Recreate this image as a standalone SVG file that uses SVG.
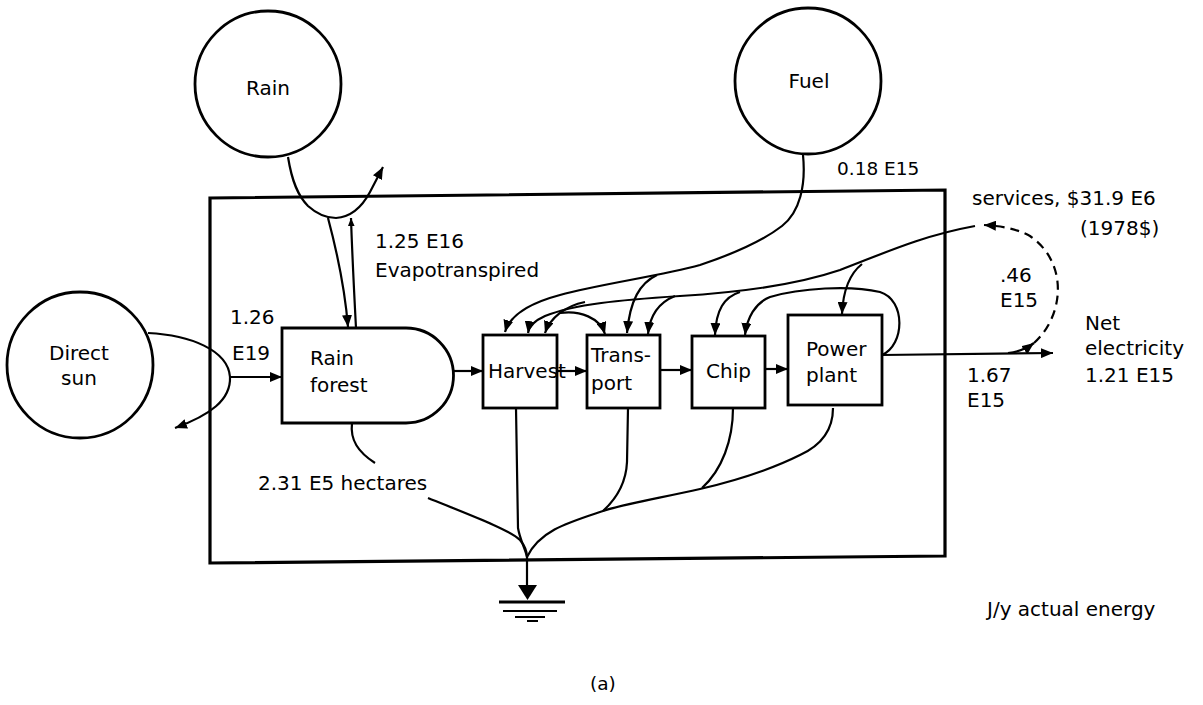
<svg xmlns="http://www.w3.org/2000/svg" width="1203" height="705" viewBox="0 0 1203 705">
<style>
text{font-family:"DejaVu Sans","Liberation Sans",sans-serif;font-size:20px;fill:#000}
.sm{font-size:18.5px}
.node{fill:#fff;stroke:#000;stroke-width:2.8}
.c{fill:none;stroke:#000;stroke-width:2.2}
.d{fill:none;stroke:#000;stroke-width:2.2;stroke-dasharray:9 6}
.box{fill:none;stroke:#000;stroke-width:3.2}
</style>
<defs>
<marker id="ah" viewBox="0 0 12 10" refX="12" refY="5" markerWidth="12" markerHeight="10" markerUnits="userSpaceOnUse" orient="auto"><path d="M0,0 L12,5 L0,10 Z"/></marker>
<marker id="as" viewBox="0 0 12 10" refX="12" refY="5" markerWidth="8" markerHeight="7" markerUnits="userSpaceOnUse" orient="auto"><path d="M0,0 L12,5 L0,10 Z"/></marker>
</defs>
<rect width="1203" height="705" fill="#fff"/>
<polygon class="box" points="210,198 945,190 945,556 210,563"/>
<g id="connectors">
<path class="c" d="M288,157 C292,182 298,196 308,206 C318,215 328,218 336,218 C350,217 362,207 370,192 L383,167" marker-end="url(#ah)"/>
<path class="c" d="M328,218 C336,248 345,290 348,327" marker-end="url(#ah)"/>
<path class="c" d="M356,328 C354,290 352,250 351,218" marker-end="url(#as)"/>
<path class="c" d="M148,333 C190,335 228,350 230,377 C231,400 210,415 175,428" marker-end="url(#ah)"/>
<path class="c" d="M230,377 L282,377" marker-end="url(#ah)"/>
<path class="c" d="M453,371 L483,371" marker-end="url(#ah)"/>
<path class="c" d="M557,371 L587,371" marker-end="url(#ah)"/>
<path class="c" d="M660,370 L692,370" marker-end="url(#ah)"/>
<path class="c" d="M765,369 L788,369" marker-end="url(#ah)"/>
<path class="c" d="M882,355 L1053,353" marker-end="url(#ah)"/>
<path class="c" d="M803,155 C806,185 800,212 782,226 C760,243 730,255 700,265 C660,276 600,284 560,295 C530,303 510,315 505,332" marker-end="url(#ah)"/>
<path class="c" d="M657,275 C640,283 630,300 627,333" marker-end="url(#ah)"/>
<path class="c" d="M975,226 C920,236 880,255 840,270 C790,287 730,293 680,296 C620,300 575,304 545,316 C534,321 529,326 528,333" marker-end="url(#ah)"/>
<path class="c" d="M862,264 C848,275 843,292 842,314" marker-end="url(#ah)"/>
<path class="c" d="M740,292 C724,297 716,310 715,335" marker-end="url(#ah)"/>
<path class="c" d="M675,296 C660,302 650,315 648,334" marker-end="url(#ah)"/>
<path class="c" d="M585,302 C565,306 550,318 545,333" marker-end="url(#ah)"/>
<path class="c" d="M560,313 C580,310 600,318 605,334" marker-end="url(#ah)"/>
<path class="c" d="M882,355 C905,345 906,300 880,292 C850,285 800,288 770,297 C755,303 747,318 745,335" marker-end="url(#ah)"/>
<path class="c" d="M1008,353 C1018,352 1026,349 1034,343" marker-end="url(#ah)"/>
<path class="d" d="M1034,343 C1065,315 1068,262 1030,236 C1015,228 1000,226 984,225" marker-end="url(#ah)"/>
<path class="c" d="M516,408 L518,528 C520,540 525,548 527,557"/>
<path class="c" d="M352,423 C350,440 358,452 375,463"/>
<path class="c" d="M428,498 C470,515 510,530 520,540 C525,546 527,552 527,557"/>
<path class="c" d="M833,408 C833,430 822,445 800,455 C770,470 730,482 700,489 C660,498 620,505 603,511 C570,522 540,530 527,557"/>
<path class="c" d="M628,408 L627,462 C626,485 615,500 603,511"/>
<path class="c" d="M733,408 C733,440 722,470 702,488"/>
<path class="c" d="M527,557 L527,586"/>
</g>
<g id="sink">
<polygon points="518,585 537,585 527.5,600" fill="#000"/>
<line x1="499" y1="602" x2="565" y2="602" stroke="#000" stroke-width="3"/>
<line x1="503" y1="611" x2="557" y2="611" stroke="#000" stroke-width="2"/>
<line x1="515" y1="617" x2="545" y2="617" stroke="#000" stroke-width="2"/>
<line x1="527" y1="621" x2="538" y2="621" stroke="#000" stroke-width="2"/>
</g>
<g id="rain"><circle class="node" cx="268" cy="84" r="73"/><text x="268" y="95" text-anchor="middle">Rain</text></g>
<g id="fuel"><circle class="node" cx="808" cy="81" r="73"/><text x="809" y="88" text-anchor="middle">Fuel</text></g>
<g id="sun"><circle class="node" cx="80" cy="365" r="73"/><text x="79" y="360" text-anchor="middle">Direct</text><text x="79" y="385" text-anchor="middle">sun</text></g>
<g id="rainforest"><path class="node" d="M282,328 H406 A47.5,47.5 0 0 1 406,423 H282 Z"/><text x="310" y="365">Rain</text><text x="310" y="392">forest</text></g>
<g id="harvest"><rect class="node" x="483" y="335" width="74" height="73"/><text x="488" y="378">Harvest</text></g>
<g id="transport"><rect class="node" x="587" y="335" width="73" height="73"/><text x="591" y="362">Trans-</text><text x="591" y="390">port</text></g>
<g id="chip"><rect class="node" x="692" y="336" width="73" height="72"/><text x="706" y="378">Chip</text></g>
<g id="powerplant"><rect class="node" x="788" y="315" width="94" height="90"/><text x="806" y="356">Power</text><text x="806" y="382">plant</text></g>
<g id="labels">
<text x="230" y="324">1.26</text>
<text x="232" y="360">E19</text>
<text x="375" y="248">1.25 E16</text>
<text x="375" y="277">Evapotranspired</text>
<text class="sm" x="837" y="175">0.18 E15</text>
<text x="972" y="205">services, $31.9 E6</text>
<text x="1080" y="235">(1978$)</text>
<text x="1000" y="282">.46</text>
<text x="1000" y="307">E15</text>
<text x="1085" y="330">Net</text>
<text x="1085" y="355">electricity</text>
<text x="1085" y="382">1.21 E15</text>
<text x="967" y="382">1.67</text>
<text x="967" y="407">E15</text>
<text x="258" y="490">2.31 E5 hectares</text>
<text x="987" y="616">J/y actual energy</text>
<text class="sm" x="590" y="690">(a)</text>
</g>
</svg>
